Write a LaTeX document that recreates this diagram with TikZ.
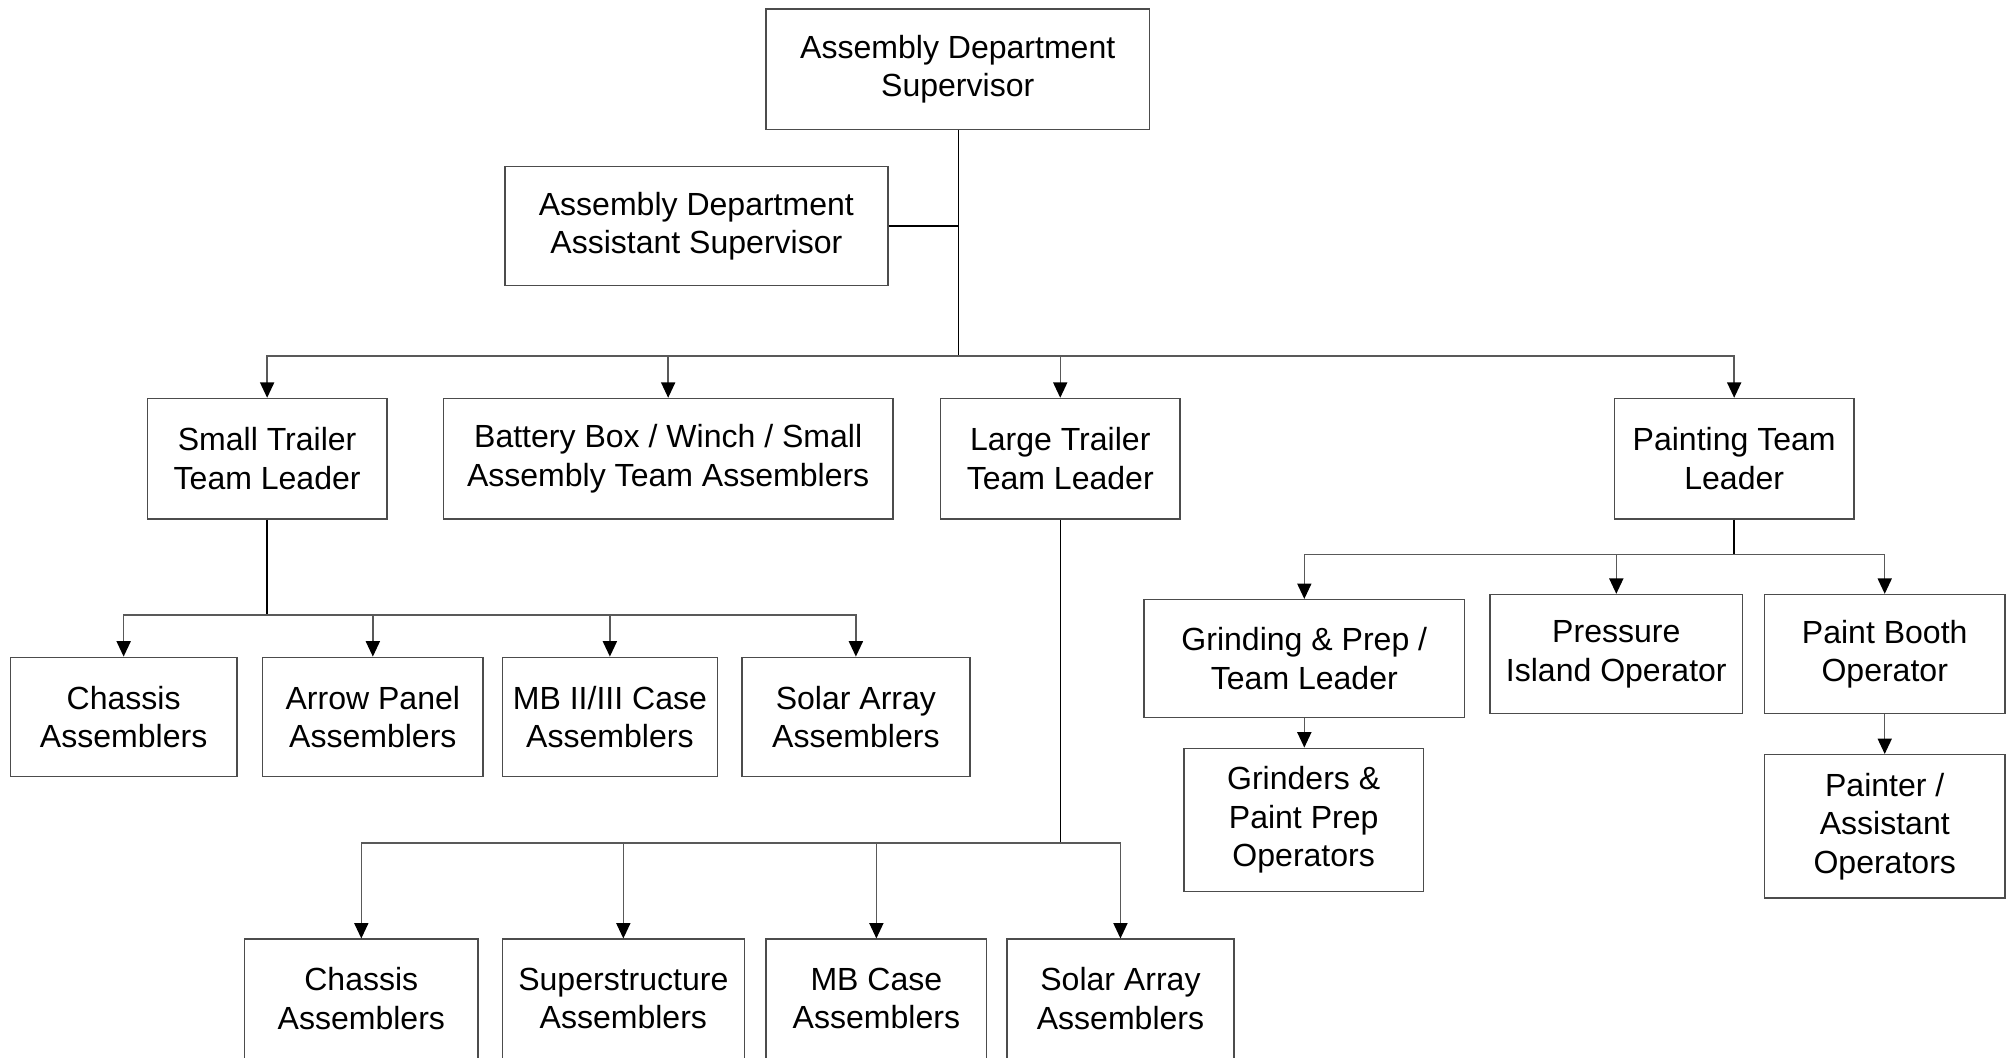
\documentclass[tikz,border=0pt]{standalone}
\usepackage{fontspec}
\setmainfont{Liberation Sans}
\usetikzlibrary{arrows.meta}
\begin{document}
\begin{tikzpicture}[x=0.5pt,y=-0.5pt,
  box/.style={draw=black!70, line width=0.55pt, align=center, inner sep=0pt,
    font=\fontsize{12.5}{15}\selectfont, fill=white},
  link/.style={draw=black, line width=0.55pt},
  arr/.style={draw=black!65, line width=0.55pt,
    -{Triangle[length=6pt,width=5.5pt,color=black,fill=black]}}]
\useasboundingbox (0,0) rectangle (1568,825);
\clip (0,0) rectangle (1568,825);

% management
\node[box, minimum width=149.5pt, minimum height=47pt] (sup) at (747.5,54) {Assembly Department\\Supervisor};
\node[box, minimum width=149.5pt, minimum height=46.5pt] (asst) at (543.5,176.5) {Assembly Department\\Assistant Supervisor};

% team leaders
\node[box, minimum width=93.5pt, minimum height=47pt] (stl) at (208.5,358) {Small Trailer\\Team Leader};
\node[box, minimum width=175.5pt, minimum height=47pt] (batt) at (521.5,358) {Battery Box / Winch / Small\\Assembly Team Assemblers};
\node[box, minimum width=93.5pt, minimum height=47pt] (ltl) at (827.5,358) {Large Trailer\\Team Leader};
\node[box, minimum width=93.5pt, minimum height=47pt] (ptl) at (1353.5,358) {Painting Team\\Leader};

% small trailer team
\node[box, minimum width=88.5pt, minimum height=46.5pt] (sc) at (96.5,559.5) {Chassis\\Assemblers};
\node[box, minimum width=86pt, minimum height=46.5pt] (sa) at (291,559.5) {Arrow Panel\\Assemblers};
\node[box, minimum width=84pt, minimum height=46.5pt] (sm) at (476,559.5) {MB II/III Case\\Assemblers};
\node[box, minimum width=89pt, minimum height=46.5pt] (ss) at (668,559.5) {Solar Array\\Assemblers};

% large trailer team
\node[box, minimum width=91pt, minimum height=46.5pt] (lc) at (282,779.5) {Chassis\\Assemblers};
\node[box, minimum width=94.5pt, minimum height=46.5pt] (lsu) at (486.5,779.5) {Superstructure\\Assemblers};
\node[box, minimum width=86pt, minimum height=46.5pt] (lm) at (684,779.5) {MB Case\\Assemblers};
\node[box, minimum width=88.5pt, minimum height=46.5pt] (ls) at (874.5,779.5) {Solar Array\\Assemblers};

% painting team
\node[box, minimum width=125pt, minimum height=46pt] (grind) at (1018,514) {Grinding \& Prep /\\Team Leader};
\node[box, minimum width=98.5pt, minimum height=46.5pt] (press) at (1261.5,510.5) {Pressure\\Island Operator};
\node[box, minimum width=94pt, minimum height=46.5pt] (booth) at (1471,510.5) {Paint Booth\\Operator};
\node[box, minimum width=93.5pt, minimum height=56pt] (gops) at (1017.5,640) {Grinders \&\\Paint Prep\\Operators};
\node[box, minimum width=94pt, minimum height=56pt] (painter) at (1471,645) {Painter /\\Assistant\\Operators};

% junction points of the connector buses
\coordinate (b0) at (748,278);
\coordinate (b1) at (208.5,480);
\coordinate (b2) at (827.5,658);
\coordinate (b3) at (1353.5,433);

% supervisor to team leaders
\draw[link] (sup.south -| b0) -- (b0);
\draw[link] (asst.east) -- (asst.east -| b0);
\draw[arr] (b0) -| (stl.north);
\draw[arr] (b0) -| (batt.north);
\draw[arr] (b0) -| (ltl.north);
\draw[arr] (b0) -| (ptl.north);

% small trailer team
\draw[link] (stl.south) -- (b1);
\draw[arr] (b1) -| (sc.north);
\draw[arr] (b1) -| (sa.north);
\draw[arr] (b1) -| (sm.north);
\draw[arr] (b1) -| (ss.north);

% large trailer team
\draw[link] (ltl.south) -- (b2);
\draw[arr] (b2) -| (lc.north);
\draw[arr] (b2) -| (lsu.north);
\draw[arr] (b2) -| (lm.north);
\draw[arr] (b2) -| (ls.north);

% painting team
\draw[link] (ptl.south) -- (b3);
\draw[arr] (b3) -| (grind.north);
\draw[arr] (b3) -| (press.north);
\draw[arr] (b3) -| (booth.north);
\draw[arr] (grind.south) -- (grind.south |- gops.north);
\draw[arr] (booth.south) -- (painter.north);
\end{tikzpicture}
\end{document}
